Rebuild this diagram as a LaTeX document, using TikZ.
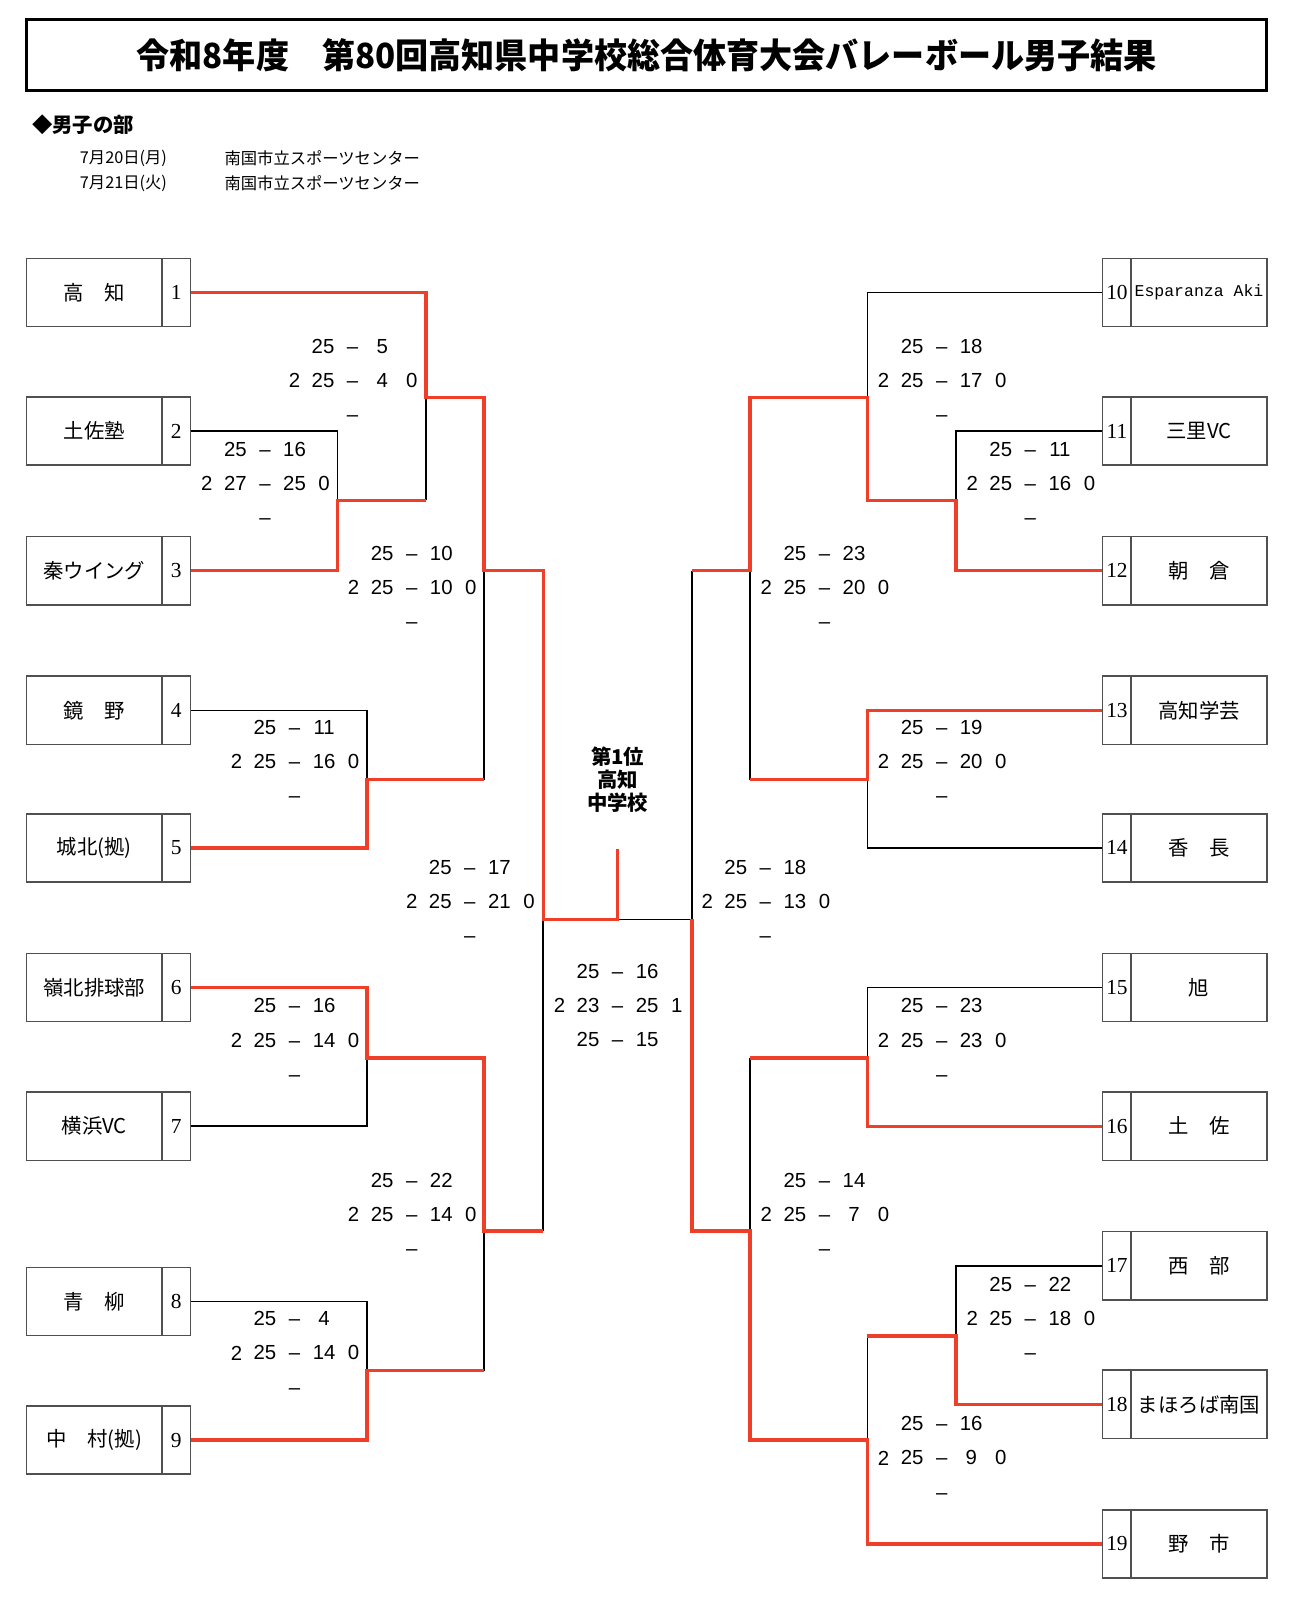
\documentclass[tikz,border=0pt]{standalone}
\usepackage{fontspec}
\setmainfont{Liberation Sans}
\newfontfamily\jp{Noto Sans CJK JP}
\newfontfamily\sansnum{Liberation Sans}
\newfontfamily\serifnum{Liberation Serif}
\newfontfamily\latmono{Liberation Mono}
\definecolor{winred}{RGB}{238,64,40}
\definecolor{boxgray}{RGB}{80,80,80}
\tikzset{
 lose/.style={black, line width=0.75pt},
 win/.style={winred, line width=1.6pt, line join=miter},
 teamname/.style={draw=boxgray, line width=0.75pt, minimum width=66.5pt, minimum height=33.5pt, inner sep=0pt, font=\jp\fontsize{10}{12}\selectfont},
 teamno/.style={draw=boxgray, line width=0.75pt, minimum width=14pt, minimum height=33.5pt, inner sep=0pt, font=\serifnum\fontsize{10.5}{12}\selectfont},
 sc/.style={inner sep=0pt, font=\sansnum\fontsize{10}{12}\selectfont},
}
\newcommand\dsh{\vphantom{0}\textendash}
\newcommand\scb[9]{%
 \node[sc] (#1a) at (#2-29,#3) {#4};
 \node[sc] (#1b) at (#2,#3) {\dsh};
 \node[sc] (#1c) at (#2+29,#3) {#5};
 \node[sc] (#1d) at (#2-57,#3+33.5) {#6};
 \node[sc] (#1e) at (#2-29,#3+33.5) {#7};
 \node[sc] (#1f) at (#2,#3+33.5) {\dsh};
 \node[sc] (#1g) at (#2+29,#3+33.5) {#8};
 \node[sc] (#1h) at (#2+58,#3+33.5) {#9};
 \node[sc] (#1i) at (#2,#3+67) {\dsh};
}
\begin{document}
\begin{tikzpicture}[x=0.5pt,y=-0.5pt]
\useasboundingbox (0,0) rectangle (1269,1568);
% title
\node[draw=black, line width=1.6pt, minimum width=608.5pt, minimum height=35pt, inner sep=0pt,
 font=\jp\bfseries\fontsize{17}{20}\selectfont] (title) at (634.5,54) {\scalebox{0.955}[1]{令和8年度　第80回高知県中学校総合体育大会バレーボール男子結果}};
\node[anchor=west, inner sep=0pt, font=\jp\bfseries\fontsize{10}{12}\selectfont] (sec) at (31,122) {◆男子の部};
\node[anchor=west, inner sep=0pt, font=\jp\fontsize{8}{10}\selectfont] (d1) at (78,155) {7月20日(月)};
\node[anchor=west, inner sep=0pt, font=\jp\fontsize{8}{10}\selectfont] (v1) at (220,155) {南国市立スポーツセンター};
\node[anchor=west, inner sep=0pt, font=\jp\fontsize{8}{10}\selectfont] (d2) at (78,180) {7月21日(火)};
\node[anchor=west, inner sep=0pt, font=\jp\fontsize{8}{10}\selectfont] (v2) at (220,180) {南国市立スポーツセンター};

% left teams
\node[teamname] (m1) at (92.5,287) {高　知};      \node[teamno] (n1) at (173,287) {1};
\node[teamname] (m2) at (92.5,423) {土佐塾};      \node[teamno] (n2) at (173,423) {2};
\node[teamname] (m3) at (92.5,560) {秦ウイング};  \node[teamno] (n3) at (173,560) {3};
\node[teamname] (m4) at (92.5,697) {鏡　野};      \node[teamno] (n4) at (173,697) {4};
\node[teamname] (m5) at (92.5,832) {城北(拠)};    \node[teamno] (n5) at (173,832) {5};
\node[teamname] (m6) at (92.5,969) {嶺北排球部};  \node[teamno] (n6) at (173,969) {6};
\node[teamname] (m7) at (92.5,1105) {横浜VC};     \node[teamno] (n7) at (173,1105) {7};
\node[teamname] (m8) at (92.5,1277) {青　柳};     \node[teamno] (n8) at (173,1277) {8};
\node[teamname] (m9) at (92.5,1413) {中　村(拠)}; \node[teamno] (n9) at (173,1413) {9};
% right teams
\node[teamno] (n10) at (1096,287) {10};  \node[teamname, font=\latmono\fontsize{8.1}{10}\selectfont] (m10) at (1176.5,287) {Esparanza Aki};
\node[teamno] (n11) at (1096,423) {11};  \node[teamname] (m11) at (1176.5,423) {三里VC};
\node[teamno] (n12) at (1096,560) {12};  \node[teamname] (m12) at (1176.5,560) {朝　倉};
\node[teamno] (n13) at (1096,697) {13};  \node[teamname] (m13) at (1176.5,697) {高知学芸};
\node[teamno] (n14) at (1096,832) {14};  \node[teamname] (m14) at (1176.5,832) {香　長};
\node[teamno] (n15) at (1096,969) {15};  \node[teamname] (m15) at (1176.5,969) {旭};
\node[teamno] (n16) at (1096,1105) {16}; \node[teamname] (m16) at (1176.5,1105) {土　佐};
\node[teamno] (n17) at (1096,1242) {17}; \node[teamname] (m17) at (1176.5,1242) {西　部};
\node[teamno] (n18) at (1096,1378) {18}; \node[teamname] (m18) at (1176.5,1378) {まほろば南国};
\node[teamno] (n19) at (1096,1515) {19}; \node[teamname] (m19) at (1176.5,1515) {野　市};

% junctions left
\coordinate (A) at (418,390);  \coordinate (At) at (418,287);  \coordinate (Ab) at (418,491);
\coordinate (B) at (331,491);  \coordinate (Bt) at (331,423);  \coordinate (Bb) at (331,560);
\coordinate (C) at (475,560);  \coordinate (Ct) at (475,390);  \coordinate (Cb) at (475,765);
\coordinate (D) at (360,765);  \coordinate (Dt) at (360,697);  \coordinate (Db) at (360,832);
\coordinate (E) at (533,902);  \coordinate (Et) at (533,560);  \coordinate (Eb) at (533,1208);
\coordinate (F) at (360,1038); \coordinate (Ft) at (360,969);  \coordinate (Fb) at (360,1105);
\coordinate (G) at (475,1208); \coordinate (Gt) at (475,1038); \coordinate (Gb) at (475,1345);
\coordinate (H) at (360,1345); \coordinate (Ht) at (360,1277); \coordinate (Hb) at (360,1413);
\coordinate (W) at (606,902);  \coordinate (Wtop) at (606,833);
% junctions right
\coordinate (RA) at (851,390);  \coordinate (RAt) at (851,287);  \coordinate (RAb) at (851,491);
\coordinate (RB) at (938,491);  \coordinate (RBt) at (938,423);  \coordinate (RBb) at (938,560);
\coordinate (RC) at (736,560);  \coordinate (RCt) at (736,390);  \coordinate (RCb) at (736,765);
\coordinate (RD) at (851,765);  \coordinate (RDt) at (851,697);  \coordinate (RDb) at (851,832);
\coordinate (RE) at (679,902);  \coordinate (REt) at (679,560);  \coordinate (REb) at (679,1208);
\coordinate (RF) at (851,1038); \coordinate (RFt) at (851,969);  \coordinate (RFb) at (851,1105);
\coordinate (RG) at (736,1208); \coordinate (RGt) at (736,1038); \coordinate (RGb) at (736,1413);
\coordinate (RH) at (938,1311); \coordinate (RHt) at (938,1242); \coordinate (RHb) at (938,1378);
\coordinate (RI) at (851,1413); \coordinate (RIt) at (851,1311); \coordinate (RIb) at (851,1515);

% black (losing) lines
\draw[lose] (n2.east) -- (Bt) -- (B);
\draw[lose] (Ab) -- (A);
\draw[lose] (n4.east) -- (Dt) -- (D);
\draw[lose] (Cb) -- (C);
\draw[lose] (n7.east) -- (Fb) -- (F);
\draw[lose] (n8.east) -- (Ht) -- (H);
\draw[lose] (Gb) -- (G);
\draw[lose] (Eb) -- (E);
\draw[lose] (n10.west) -- (RAt) -- (RA);
\draw[lose] (n11.west) -- (RBt) -- (RB);
\draw[lose] (REt) -- (RE) -- (W);
\draw[lose] (n14.west) -- (RDb) -- (RD);
\draw[lose] (RCb) -- (RC);
\draw[lose] (n15.west) -- (RFt) -- (RF);
\draw[lose] (RGt) -- (RG);
\draw[lose] (n17.west) -- (RHt) -- (RH);
\draw[lose] (RIt) -- (RI);
% red (winning) lines
\draw[win] (n3.east) -- (Bb) -- (B) -- (Ab);
\draw[win] (n1.east) -- (At) -- (A) -- (Ct) -- (C) -- (Et) -- (E) -- (W) -- (Wtop);
\draw[win] (n5.east) -- (Db) -- (D) -- (Cb);
\draw[win] (n6.east) -- (Ft) -- (F) -- (Gt) -- (G) -- (Eb);
\draw[win] (n9.east) -- (Hb) -- (H) -- (Gb);
\draw[win] (n12.west) -- (RBb) -- (RB) -- (RAb) -- (RA) -- (RCt) -- (RC) -- (REt);
\draw[win] (n13.west) -- (RDt) -- (RD) -- (RCb);
\draw[win] (n16.west) -- (RFb) -- (RF) -- (RGt);
\draw[win] (n18.west) -- (RHb) -- (RH) -- (RIt);
\draw[win] (n19.west) -- (RIb) -- (RI) -- (RGb) -- (RG) -- (REb) -- (RE);

% champion
\node[align=center, inner sep=0pt, font=\jp\bfseries\fontsize{10}{11.25}\selectfont] (champ) at (606,765) {第1位\\高知\\中学校};

% scores
\scb{sA}{346}{340}{25}{5}{2}{25}{4}{0}
\scb{sB}{260}{441}{25}{16}{2}{27}{25}{0}
\scb{sC}{404}{543}{25}{10}{2}{25}{10}{0}
\scb{sD}{289}{714}{25}{11}{2}{25}{16}{0}
\scb{sE}{461}{851}{25}{17}{2}{25}{21}{0}
\scb{sF}{289}{987}{25}{16}{2}{25}{14}{0}
\scb{sG}{404}{1158}{25}{22}{2}{25}{14}{0}
\scb{sH}{289}{1294}{25}{4}{2}{25}{14}{0}
\scb{rA}{924}{340}{25}{18}{2}{25}{17}{0}
\scb{rB}{1011}{441}{25}{11}{2}{25}{16}{0}
\scb{rC}{809}{543}{25}{23}{2}{25}{20}{0}
\scb{rD}{924}{714}{25}{19}{2}{25}{20}{0}
\scb{rE}{751}{851}{25}{18}{2}{25}{13}{0}
\scb{rF}{924}{987}{25}{23}{2}{25}{23}{0}
\scb{rG}{809}{1158}{25}{14}{2}{25}{7}{0}
\scb{rH}{1011}{1260}{25}{22}{2}{25}{18}{0}
\scb{rI}{924}{1397}{25}{16}{2}{25}{9}{0}
% final
\node[sc] (fa) at (577,953) {25};  \node[sc] (fb) at (606,953) {\dsh};  \node[sc] (fc) at (635,953) {16};
\node[sc] (fd) at (549,986.5) {2}; \node[sc] (fe) at (577,986.5) {23}; \node[sc] (ff) at (606,986.5) {\dsh};
\node[sc] (fg) at (635,986.5) {25}; \node[sc] (fh) at (664,986.5) {1};
\node[sc] (fi) at (577,1020) {25}; \node[sc] (fj) at (606,1020) {\dsh}; \node[sc] (fk) at (635,1020) {15};
\end{tikzpicture}
\end{document}
